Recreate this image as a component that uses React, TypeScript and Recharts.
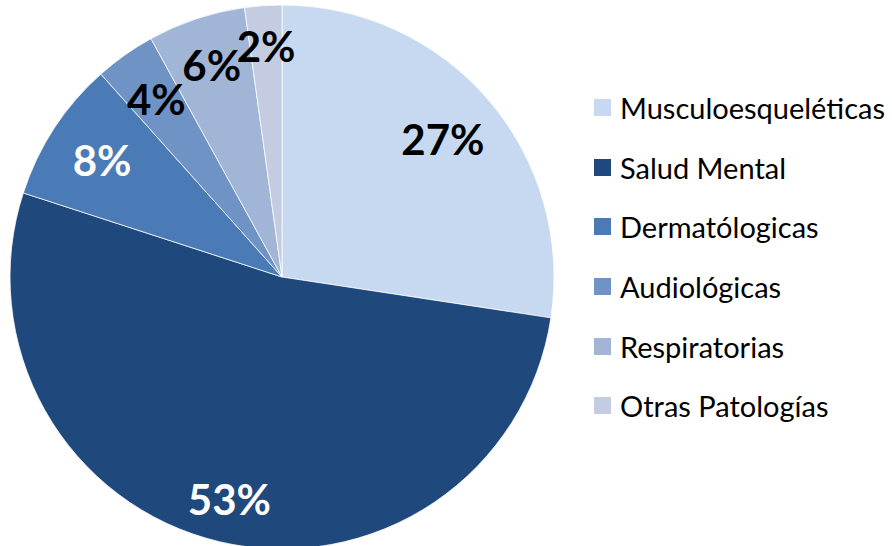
import { PieChart, Pie, Cell, Legend } from "recharts";

const categories = [
  "Musculoesqueléticas",
  "Salud Mental",
  "Dermatólogicas",
  "Audiológicas",
  "Respiratorias",
  "Otras Patologías",
];
const shares = [27.4, 52.6, 8.4, 3.6, 5.8, 2.2];
const COLORS = ["#C6D9F1", "#1F497D", "#4A7BB7", "#7093C6", "#A1B5D7", "#C3CCE0"];
const LABEL_COLORS = ["#000", "#fff", "#fff", "#000", "#000", "#000"];
// label distance from centre, as a share of the radius
const LABEL_RADII = [0.78, 0.84, 0.79, 0.8, 0.82, 0.85];

const rows = categories.map((name, i) => ({ name, value: shares[i] }));

const FONT = "Lato, 'Open Sans', sans-serif";
const RAD = Math.PI / 180;

function renderLabel(props: any) {
  const { cx, cy, midAngle, outerRadius, percent, index } = props;
  const r = outerRadius * LABEL_RADII[index];
  const x = cx + r * Math.cos(-midAngle * RAD);
  const y = cy + r * Math.sin(-midAngle * RAD);
  return (
    <text
      x={x}
      y={y}
      fill={LABEL_COLORS[index]}
      textAnchor="middle"
      dominantBaseline="central"
      fontFamily={FONT}
      fontWeight={700}
      fontSize={42}
    >
      {Math.round(percent * 100)}%
    </text>
  );
}

function LegendBox() {
  return (
    <div style={{ fontFamily: FONT, fontSize: 29, color: "#000" }}>
      {rows.map((r, i) => (
        <div key={r.name} style={{ display: "flex", alignItems: "center", height: 59.6 }}>
          <span style={{ width: 17, height: 17, background: COLORS[i], marginRight: 9, display: "inline-block" }} />
          <span>{r.name}</span>
        </div>
      ))}
    </div>
  );
}

export default function App() {
  return (
    <div style={{ position: "absolute", left: 0, top: 0, background: "#fff" }}>
      <PieChart width={892} height={546}>
        <Pie
          data={rows}
          dataKey="value"
          nameKey="name"
          cx={277}
          cy={272}
          outerRadius={272}
          startAngle={90}
          endAngle={-270}
          stroke="#fff"
          strokeWidth={0.75}
          label={renderLabel}
          labelLine={false}
          isAnimationActive={false}
        >
          {rows.map((_, i) => (
            <Cell key={i} fill={COLORS[i]} />
          ))}
        </Pie>
        <Legend
          layout="vertical"
          align="right"
          verticalAlign="top"
          content={() => <LegendBox />}
          wrapperStyle={{ left: 594, top: 78, width: 298 }}
        />
      </PieChart>
    </div>
  );
}
